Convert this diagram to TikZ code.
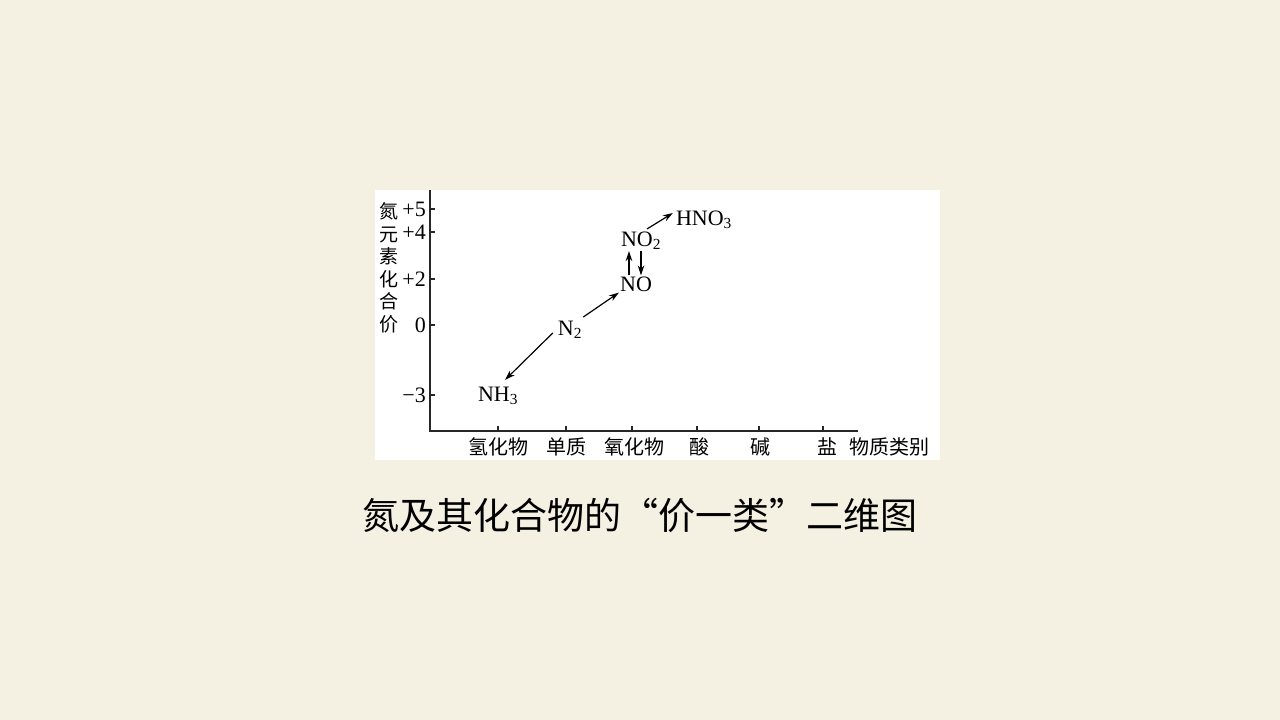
\documentclass[tikz,border=0pt]{standalone}
\usepackage{fontspec}
\setmainfont{Liberation Serif}
\newfontfamily\cjk{Noto Sans CJK SC}
\usetikzlibrary{arrows.meta}
\definecolor{paper}{RGB}{245,241,226}

\begin{document}
\begin{tikzpicture}[x=1pt, y=-1pt,
    axis/.style={line width=1.5pt, black!85},
    tick/.style={line width=1.3pt, black!85},
    conv/.style={line width=1.2pt, -{Stealth[length=10pt,width=6.5pt]}},
    chem/.style={inner sep=1pt, font=\fontsize{22}{22}\selectfont},
    val/.style={anchor=east, inner sep=0pt, font=\fontsize{22}{22}\selectfont},
    cls/.style={inner sep=0pt, font=\cjk\fontsize{20}{20}\selectfont}]

    % Slide background and white chart panel
    \fill[paper] (0,0) rectangle (1280,720);
    \fill[white] (375,190) rectangle (940,460);

    % Axes
    \coordinate (O) at (430,431);
    \coordinate (ytop) at (430,190);
    \coordinate (xend) at (858,431);
    \draw[axis] (ytop) -- (O) -- (xend);
    \node[inner sep=0pt, align=center, font=\cjk\fontsize{19}{22.5}\selectfont] (ylab) at (389,268) {氮\\元\\素\\化\\合\\价};

    % Valence ticks
    \draw[tick] (430,209) -- (435,209) (430,232) -- (435,232) (430,279) -- (435,279);
    \draw[tick] (430,325) -- (435,325) (430,395) -- (435,395);
    \node[val] at (426,209) {+5};
    \node[val] at (426,232) {+4};
    \node[val] at (426,279) {+2};
    \node[val] at (426,325) {0};
    \node[val] at (426,395) {−3};

    % Class ticks and labels
    \draw[tick] (498,431) -- (498,426) (566,431) -- (566,426) (632,431) -- (632,426);
    \draw[tick] (697,431) -- (697,426) (759,431) -- (759,426) (823,431) -- (823,426);
    \node[cls] at (498,447) {氢化物};
    \node[cls] at (566,447) {单质};
    \node[cls] at (634,447) {氧化物};
    \node[cls] at (699,447) {酸};
    \node[cls] at (760,447) {碱};
    \node[cls] at (827,447) {盐};
    \node[cls] at (889,447) {物质类别};

    % Nitrogen species
    \node[chem] (nh3) at (498,396) {NH\textsubscript{3}};
    \node[chem] (ntwo) at (570,330) {N\textsubscript{2}};
    \node[chem] (no) at (636,284) {NO};
    \node[chem] (notwo) at (641,241) {NO\textsubscript{2}};
    \node[chem] (hno) at (704,220) {HNO\textsubscript{3}};

    % Conversions
    \draw[conv] ([xshift=-4pt,yshift=-3pt]ntwo.west) -- ([xshift=7pt,yshift=6pt]nh3.north);
    \draw[conv] ([yshift=3pt]ntwo.north east) -- (no.south west);
    \draw[conv] ([xshift=-7pt]no.north) -- ([xshift=-12pt]notwo.south);
    \draw[conv] (notwo.south) -- ([xshift=5pt]no.north);
    \draw[conv] ([xshift=6pt,yshift=2pt]notwo.north) -- ([xshift=-2pt,yshift=7pt]hno.west);

    % Caption
    \node[font=\cjk\fontsize{37}{37}\selectfont] (title) at (640,515) {氮及其化合物的“价一类”二维图};
\end{tikzpicture}
\end{document}
